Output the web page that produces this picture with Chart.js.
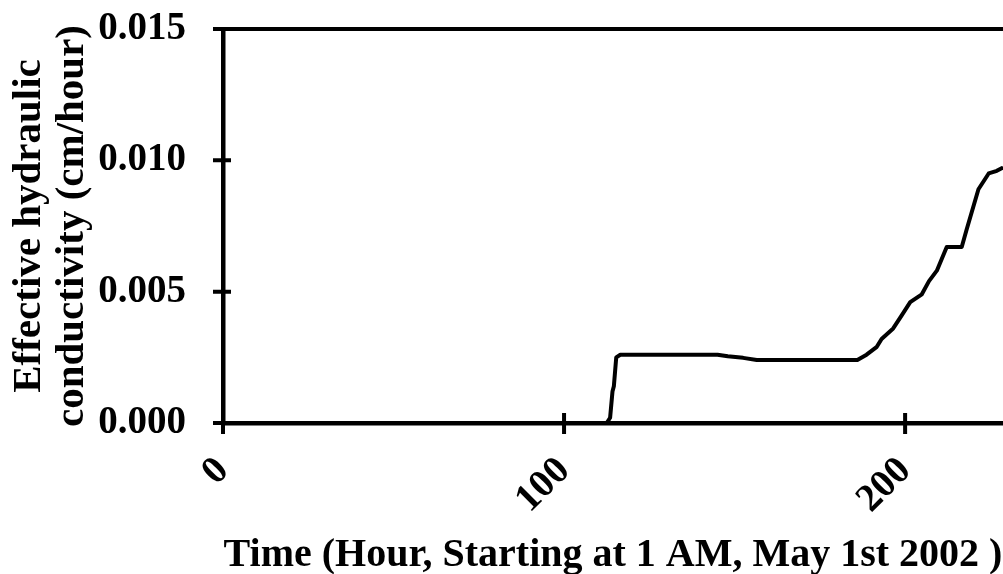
<!DOCTYPE html>
<html lang="en">
    <head>
        <meta charset="utf-8" />
        <title>Effective hydraulic conductivity</title>
        <script src="https://cdn.jsdelivr.net/npm/chart.js@4.4.0/dist/chart.umd.min.js"></script>
        <style>
            html,
            body {
                margin: 0;
                padding: 0;
                background: #fff;
            }
            .chart-box {
                width: 1003px;
                height: 574px;
            }
        </style>
    </head>
    <body>
        <div class="chart-box">
            <canvas id="kChart"></canvas>
        </div>

        <script>
            // hours since 1 AM, May 1st 2002
            const hours = [
                0, 112.5, 113.5, 114.2, 114.6, 115.3, 116.5, 145, 148, 152.5,
                156.5, 186, 188.7, 191.7, 193.1, 196.5, 199, 201.5, 204.9, 207,
                209.3, 212.2, 216.6, 218, 221.5, 222.5, 224.5, 226.9, 228.3,
            ];
            // effective hydraulic conductivity (cm/hour)
            const conductivity = [
                0, 0, 0.0002, 0.0012, 0.0014, 0.0025, 0.0026, 0.0026, 0.00254,
                0.00248, 0.0024, 0.0024, 0.0026, 0.0029, 0.0032, 0.0036,
                0.0041, 0.0046, 0.0049, 0.0054, 0.0058, 0.0067, 0.0067,
                0.00735, 0.0089, 0.0091, 0.0095, 0.0096, 0.0097,
            ];
            const xTicks = [0, 100, 200];
            const yTicks = [0, 0.005, 0.01, 0.015];

            const serif = "'Liberation Serif', 'Times New Roman', serif";

            // tick marks crossing both axes + the top frame line
            const axisMarks = {
                id: "axisMarks",
                afterDraw(chart) {
                    const { ctx, chartArea } = chart;
                    const xs = chart.scales.x;
                    const ys = chart.scales.y;
                    ctx.save();
                    ctx.strokeStyle = "#000";
                    ctx.lineWidth = 4;
                    ctx.beginPath();
                    yTicks.forEach((v) => {
                        const py = ys.getPixelForValue(v);
                        ctx.moveTo(chartArea.left - 10, py);
                        ctx.lineTo(chartArea.left + 8, py);
                    });
                    xTicks.forEach((v) => {
                        const px = xs.getPixelForValue(v);
                        ctx.moveTo(px, chartArea.bottom - 10);
                        ctx.lineTo(px, chartArea.bottom + 11);
                    });
                    ctx.moveTo(chartArea.left - 10, chartArea.top);
                    ctx.lineTo(chart.width, chartArea.top);
                    ctx.stroke();
                    ctx.restore();
                },
            };

            new Chart(document.getElementById("kChart"), {
                type: "line",
                data: {
                    datasets: [
                        {
                            data: hours.map((h, i) => ({
                                x: h,
                                y: conductivity[i],
                            })),
                            borderColor: "#000",
                            borderWidth: 4,
                            pointRadius: 0,
                            tension: 0,
                            borderJoinStyle: "round",
                            borderCapStyle: "round",
                            fill: false,
                        },
                    ],
                },
                options: {
                    responsive: true,
                    maintainAspectRatio: false,
                    animation: false,
                    layout: {
                        padding: { top: 29, left: 0, right: 0, bottom: 0 },
                    },
                    plugins: {
                        legend: { display: false },
                        tooltip: { enabled: false },
                    },
                    scales: {
                        x: {
                            type: "linear",
                            min: 0,
                            max: 228.7,
                            afterBuildTicks: (scale) => {
                                scale.ticks = xTicks.map((v) => ({ value: v }));
                            },
                            afterFit: (scale) => {
                                scale.height = 151;
                                scale.paddingLeft = 0;
                                scale.paddingRight = 0;
                            },
                            grid: {
                                display: false,
                                drawTicks: false,
                                tickLength: 0,
                            },
                            border: { display: true, color: "#000", width: 4.5 },
                            ticks: {
                                minRotation: 45,
                                maxRotation: 45,
                                padding: 39,
                                color: "#000",
                                font: {
                                    family: serif,
                                    size: 39,
                                    weight: "bold",
                                    lineHeight: 0.2,
                                },
                            },
                            title: {
                                display: true,
                                text: "Time (Hour, Starting at 1 AM, May 1st 2002 )",
                                color: "#000",
                                padding: { top: 0, bottom: -6 },
                                font: {
                                    family: serif,
                                    size: 40,
                                    weight: "bold",
                                    lineHeight: 1.2,
                                },
                            },
                        },
                        y: {
                            min: 0,
                            max: 0.015,
                            afterBuildTicks: (scale) => {
                                scale.ticks = yTicks.map((v) => ({ value: v }));
                            },
                            afterFit: (scale) => {
                                scale.width = 223;
                                scale.paddingTop = 0;
                                scale.paddingBottom = 0;
                            },
                            grid: {
                                display: false,
                                drawTicks: false,
                                tickLength: 0,
                            },
                            border: { display: true, color: "#000", width: 4.5 },
                            ticks: {
                                padding: 37,
                                color: "#000",
                                callback: (v) => Number(v).toFixed(3),
                                font: {
                                    family: serif,
                                    size: 39,
                                    weight: "bold",
                                },
                            },
                            title: {
                                display: true,
                                text: [
                                    "Effective hydraulic",
                                    "conductivity (cm/hour)",
                                ],
                                color: "#000",
                                padding: { top: 8, bottom: 0 },
                                font: {
                                    family: serif,
                                    size: 41,
                                    weight: "bold",
                                    lineHeight: 1.05,
                                },
                            },
                        },
                    },
                },
                plugins: [axisMarks],
            });
        </script>
    </body>
</html>
